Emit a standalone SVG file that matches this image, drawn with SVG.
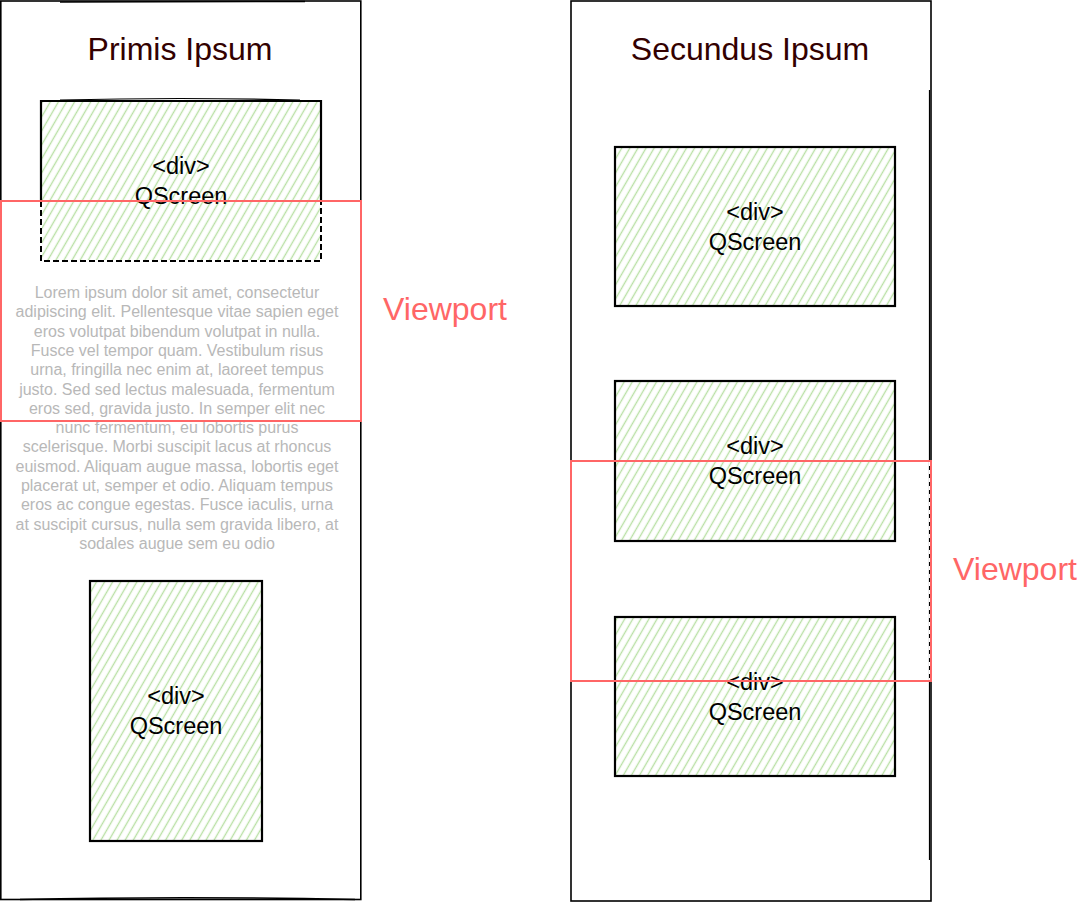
<svg xmlns="http://www.w3.org/2000/svg" width="1078" height="902" viewBox="0 0 1078 902">
<style>
.panel{fill:#fff;stroke:#000;stroke-width:1.6}
.box{fill:url(#hach);stroke:#000;stroke-width:2.2}
.vp{fill:none;stroke:#FF6666;stroke-width:2}
.title{font-family:"Liberation Sans",Arial,sans-serif;font-size:32px;fill:#330000;text-anchor:middle}
.lbl{font-family:"Liberation Sans",Arial,sans-serif;font-size:23.5px;fill:#000;text-anchor:middle}
.vpl{font-family:"Liberation Sans",Arial,sans-serif;font-size:32px;fill:#FF6666}
.lorem{font-family:"Liberation Sans",Arial,sans-serif;font-size:16px;fill:#B8B8B8;text-anchor:middle}
</style>
<defs>
<pattern id="hach" patternUnits="userSpaceOnUse" width="7" height="7" patternTransform="rotate(30)">
<line x1="3.5" y1="-1" x2="3.5" y2="8" stroke="#B9E0A5" stroke-width="1.4"/>
</pattern>
</defs>
<rect width="1078" height="902" fill="#fff"/>
<g id="panel-left">
<rect class="panel" x="0.8" y="1" width="360" height="898.5"/>
<path d="M60 2 L305 1.5" stroke="#000" stroke-width="1.5" fill="none"/>
<path d="M20 899.5 Q180 896 355 899.5" stroke="#000" stroke-width="1.5" fill="none"/>
<text class="title" x="180" y="60">Primis Ipsum</text>
</g>
<g id="panel-right">
<rect class="panel" x="571" y="1" width="360" height="900"/>
<path d="M929.5 90 L929.5 860" stroke="#000" stroke-width="1.2" fill="none"/>
<text class="title" x="750" y="60">Secundus Ipsum</text>
</g>
<g id="div-left-1">
<rect x="41" y="101" width="280" height="160" fill="url(#hach)"/>
<path d="M41 201 L41 101 L321 101 L321 201" fill="none" stroke="#000" stroke-width="2.2"/>
<path d="M60 100 Q180 97 300 100" fill="none" stroke="#000" stroke-width="1.2"/>
<path d="M41 201 L41 261 L321 261 L321 201" fill="none" stroke="#fff" stroke-width="2"/>
<path d="M41 201 L41 261 L321 261 L321 201" fill="none" stroke="#000" stroke-width="2" stroke-dasharray="6 3"/>
<text class="lbl" x="181" y="174">&lt;div&gt;</text>
<text class="lbl" x="181" y="204">QScreen</text>
</g>
<g id="lorem">
<text class="lorem" x="177" y="298">Lorem ipsum dolor sit amet, consectetur</text>
<text class="lorem" x="177" y="317.3">adipiscing elit. Pellentesque vitae sapien eget</text>
<text class="lorem" x="177" y="336.6">eros volutpat bibendum volutpat in nulla.</text>
<text class="lorem" x="177" y="355.9">Fusce vel tempor quam. Vestibulum risus</text>
<text class="lorem" x="177" y="375.2">urna, fringilla nec enim at, laoreet tempus</text>
<text class="lorem" x="177" y="394.5">justo. Sed sed lectus malesuada, fermentum</text>
<text class="lorem" x="177" y="413.8">eros sed, gravida justo. In semper elit nec</text>
<text class="lorem" x="177" y="433.1">nunc fermentum, eu lobortis purus</text>
<text class="lorem" x="177" y="452.4">scelerisque. Morbi suscipit lacus at rhoncus</text>
<text class="lorem" x="177" y="471.7">euismod. Aliquam augue massa, lobortis eget</text>
<text class="lorem" x="177" y="491">placerat ut, semper et odio. Aliquam tempus</text>
<text class="lorem" x="177" y="510.3">eros ac congue egestas. Fusce iaculis, urna</text>
<text class="lorem" x="177" y="529.6">at suscipit cursus, nulla sem gravida libero, at</text>
<text class="lorem" x="177" y="548.9">sodales augue sem eu odio</text>
</g>
<g id="div-left-2">
<rect class="box" x="90" y="581" width="172" height="260"/>
<text class="lbl" x="176" y="704">&lt;div&gt;</text>
<text class="lbl" x="176" y="734">QScreen</text>
</g>
<g id="div-right-1">
<rect class="box" x="615" y="147" width="280" height="159"/>
<text class="lbl" x="755" y="220">&lt;div&gt;</text>
<text class="lbl" x="755" y="250">QScreen</text>
</g>
<g id="div-right-2">
<rect class="box" x="615" y="381" width="280" height="160"/>
<text class="lbl" x="755" y="454">&lt;div&gt;</text>
<text class="lbl" x="755" y="484">QScreen</text>
</g>
<g id="div-right-3">
<rect class="box" x="615" y="617" width="280" height="159"/>
<text class="lbl" x="755" y="690">&lt;div&gt;</text>
<text class="lbl" x="755" y="720">QScreen</text>
</g>
<g id="viewport-left">
<rect class="vp" x="1" y="201" width="360" height="220"/>
<text class="vpl" x="383" y="320">Viewport</text>
</g>
<g id="viewport-right">
<path d="M929.5 462 L929.5 680" stroke="#fff" stroke-width="1.5" stroke-dasharray="4 4" fill="none"/>
<rect class="vp" x="571" y="461" width="360" height="220"/>
<text class="vpl" x="953" y="580">Viewport</text>
</g>
<g id="connectors"/>
</svg>
